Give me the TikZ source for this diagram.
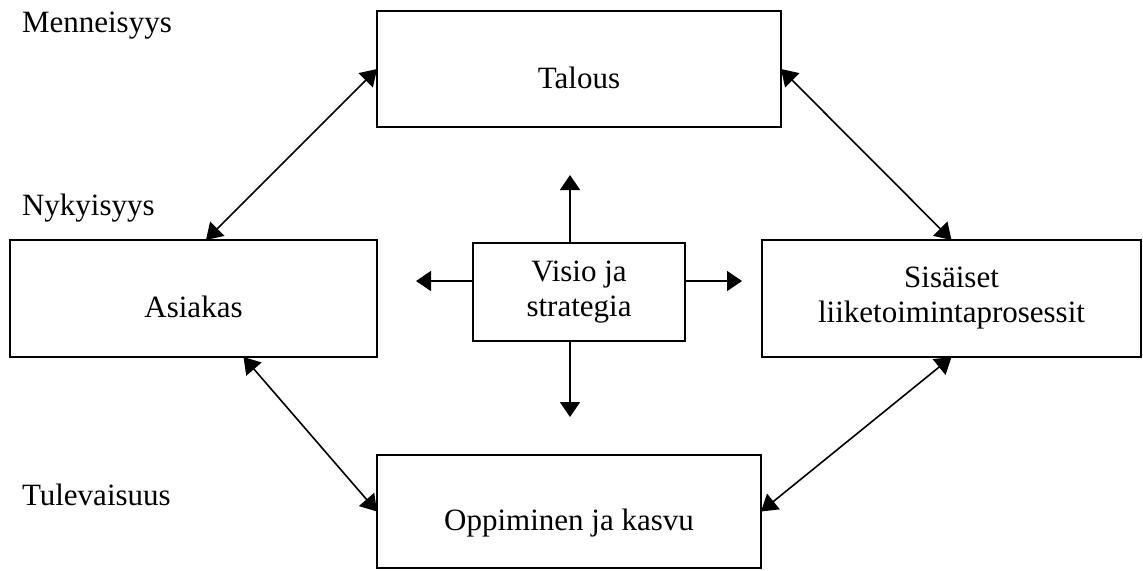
\documentclass[tikz,border=0pt]{standalone}
\usepackage{fontspec}
\setmainfont{Liberation Serif}
\usetikzlibrary{arrows.meta}
\begin{document}
\begin{tikzpicture}[
            x=0.5pt, y=-0.5pt,
            every node/.style = {font=\fontsize{15.5}{17.5}\selectfont, inner sep=0pt, outer sep=0pt},
            box/.style = {draw=black, line width=0.9pt, align=center},
            onebox/.style = {box, text height=19pt, text depth=0pt},
            link/.style = {line width=0.8pt, {Triangle[length=8pt, width=10pt]}-{Triangle[length=8pt, width=10pt]}},
            ray/.style = {line width=0.8pt, -{Triangle[length=7.5pt, width=10pt]}}
          ]
          \useasboundingbox (0,0) rectangle (1143,570);
          % perspectives
          \node[onebox, minimum width=202pt, minimum height=58pt] (talous) at (579,69) {Talous};
          \node[onebox, minimum width=183.5pt, minimum height=58.5pt] (asiakas) at (193.5,298.5) {Asiakas};
          \node[box, minimum width=106pt, minimum height=49pt] (visio) at (579,292) {Visio ja\\strategia};
          \node[box, minimum width=189.5pt, minimum height=58.5pt] (sisaiset) at (951.5,298.5) {Sisäiset\\liiketoimintaprosessit};
          \node[onebox, minimum width=192pt, minimum height=56.5pt] (oppiminen) at (569,511.5) {Oppiminen ja kasvu};
          % time labels
          \node[anchor=base west] (menneisyys) at (22,32) {Menneisyys};
          \node[anchor=base west] (nykyisyys) at (22,215) {Nykyisyys};
          \node[anchor=base west] (tulevaisuus) at (22,505) {Tulevaisuus};
          % links between perspectives
          \draw[link] (talous.west) -- ([xshift=6.25pt]asiakas.north);
          \draw[link] (talous.east) -- (sisaiset.north);
          \draw[link] ([xshift=25pt]asiakas.south) -- (oppiminen.west);
          \draw[link] (sisaiset.south) -- (oppiminen.east);
          % rays from the vision
          \coordinate (up) at (570,175);
          \coordinate (down) at (570,417);
          \coordinate (left) at (416,281);
          \coordinate (right) at (742,281);
          \draw[ray] (visio.north -| up) -- (up);
          \draw[ray] (visio.south -| down) -- (down);
          \draw[ray] (visio.west |- left) -- (left);
          \draw[ray] (visio.east |- right) -- (right);
        \end{tikzpicture}
\end{document}
